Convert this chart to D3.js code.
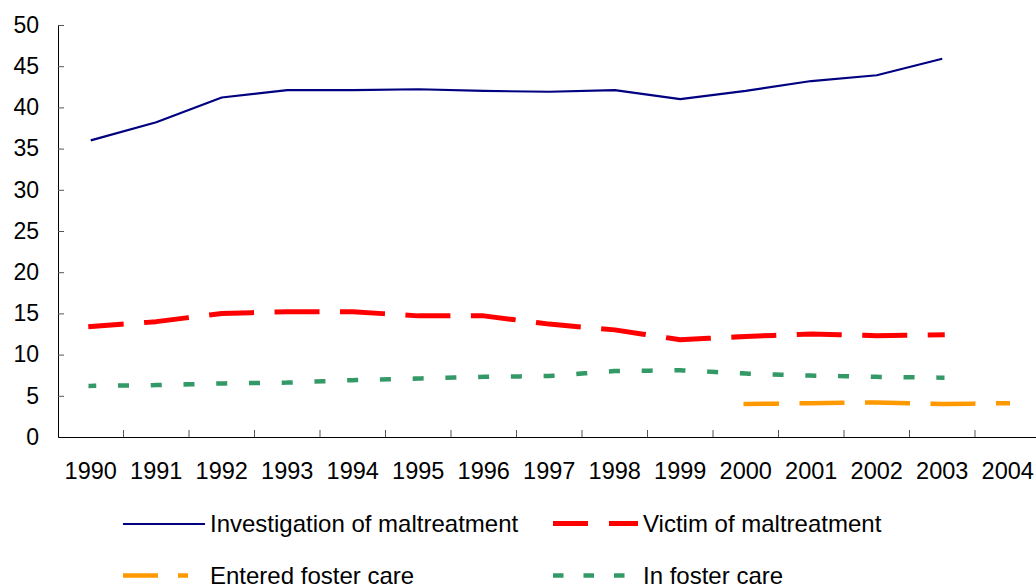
<!DOCTYPE html>
<html>
<head>
<meta charset="utf-8">
<script src="https://cdn.jsdelivr.net/npm/d3@7"></script>
<style>
  body { margin: 0; background: #fff; }
  svg { display: block; font-family: Arial, "Liberation Sans", sans-serif; }
</style>
</head>
<body>
<script>
// Data
const years = ["1990", "1991", "1992", "1993", "1994", "1995", "1996", "1997",
               "1998", "1999", "2000", "2001", "2002", "2003", "2004"];
const yTicks = [0, 5, 10, 15, 20, 25, 30, 35, 40, 45, 50];

const investigation = [36.0, 38.2, 41.2, 42.1, 42.1, 42.2, 42.0, 41.9, 42.1, 41.0, 42.0, 43.2, 43.9, 45.9, null];
const victim        = [13.4, 14.0, 15.0, 15.2, 15.2, 14.7, 14.7, 13.7, 13.0, 11.8, 12.2, 12.5, 12.3, 12.4, null];
const enteredFoster = [null, null, null, null, null, null, null, null, null, null, 4.0, 4.1, 4.2, 4.0, 4.1];
const inFoster      = [6.2, 6.3, 6.5, 6.6, 6.9, 7.1, 7.3, 7.4, 8.0, 8.1, 7.7, 7.45, 7.3, 7.2, null];

const W = 1036, H = 586;
const margin = {top: 25, left: 58};
const plotW = 982.5, plotH = 412;

const svg = d3.select("body").append("svg")
    .attr("width", W)
    .attr("height", H);

const g = svg.append("g")
    .attr("transform", "translate(" + margin.left + "," + margin.top + ")");

const x = d3.scaleBand()
    .domain(years)
    .range([0, plotW])
    .padding(0);

const y = d3.scaleLinear()
    .domain([0, 50])
    .range([plotH, 0]);

const cx = d => x(d) + x.bandwidth() / 2;

// y axis, ticks pointing inside
const yAxis = g.append("g")
    .call(d3.axisLeft(y).tickValues(yTicks).tickSizeInner(-6).tickSizeOuter(0).tickPadding(19));
yAxis.select(".domain").attr("stroke", "#000");
yAxis.selectAll(".tick line").attr("stroke", "#555");
yAxis.selectAll("text")
    .attr("font-size", "23px")
    .attr("fill", "#000")
    .attr("font-family", "Arial, 'Liberation Sans', sans-serif");

// x axis labels
const xAxis = g.append("g")
    .attr("transform", "translate(0," + plotH + ")")
    .call(d3.axisBottom(x).tickSize(0).tickPadding(25));
xAxis.select(".domain").attr("stroke", "#000");
xAxis.selectAll("text")
    .attr("font-size", "23.5px")
    .attr("fill", "#000")
    .attr("font-family", "Arial, 'Liberation Sans', sans-serif");

// category boundary ticks (inside)
g.append("g").selectAll("line")
    .data(years)
    .enter().append("line")
    .attr("x1", d => x(d) + x.bandwidth())
    .attr("x2", d => x(d) + x.bandwidth())
    .attr("y1", plotH)
    .attr("y2", plotH - 7)
    .attr("stroke", "#555");

// series
const series = [
  {name: "Investigation of maltreatment", values: investigation, color: "#000080", width: 2.2,
   dash: null, offset: 0, cap: "butt"},
  {name: "Victim of maltreatment", values: victim, color: "#ff0000", width: 5,
   dash: "40,25.5", offset: 9.5, cap: "square"},
  {name: "Entered foster care", values: enteredFoster, color: "#ff9900", width: 4.5,
   dash: "40.5,25", offset: 9.5, cap: "square"},
  {name: "In foster care", values: inFoster, color: "#339966", width: 4.5,
   dash: "6.5,26.25", offset: 3.25, cap: "square"}
];

const line = d3.line()
    .defined(d => d.v != null)
    .x(d => cx(d.year))
    .y(d => y(d.v));

series.forEach(function(s) {
  const pts = years.map((yr, i) => ({year: yr, v: s.values[i]})).filter(d => d.v != null);
  g.append("path")
    .datum(pts)
    .attr("fill", "none")
    .attr("stroke", s.color)
    .attr("stroke-width", s.width)
    .attr("stroke-linecap", s.cap)
    .attr("stroke-linejoin", "round")
    .attr("stroke-dasharray", s.dash)
    .attr("stroke-dashoffset", s.offset)
    .attr("d", line);
});

// legend
const legendItems = [
  {s: series[0], x: 123, y: 524, len: 82, dash: null},
  {s: series[1], x: 553, y: 523.5, len: 85, dash: "35,21"},
  {s: series[2], x: 123, y: 575.5, len: 82, dash: "35,20,10,40"},
  {s: series[3], x: 553, y: 575.5, len: 85, dash: "10.5,20"}
];

const legend = svg.selectAll(".legend")
    .data(legendItems)
    .enter().append("g")
    .attr("class", "legend")
    .attr("transform", d => "translate(" + d.x + "," + d.y + ")");

legend.append("line")
    .attr("x1", 0)
    .attr("x2", d => d.len)
    .attr("y1", 0)
    .attr("y2", 0)
    .attr("stroke", d => d.s.color)
    .attr("stroke-width", d => d.s.width)
    .attr("stroke-dasharray", d => d.dash);

legend.append("text")
    .attr("x", d => d.len + 5)
    .attr("y", 0)
    .attr("dy", "0.35em")
    .attr("font-size", "24px")
    .attr("fill", "#000")
    .text(d => d.s.name);
</script>
</body>
</html>
